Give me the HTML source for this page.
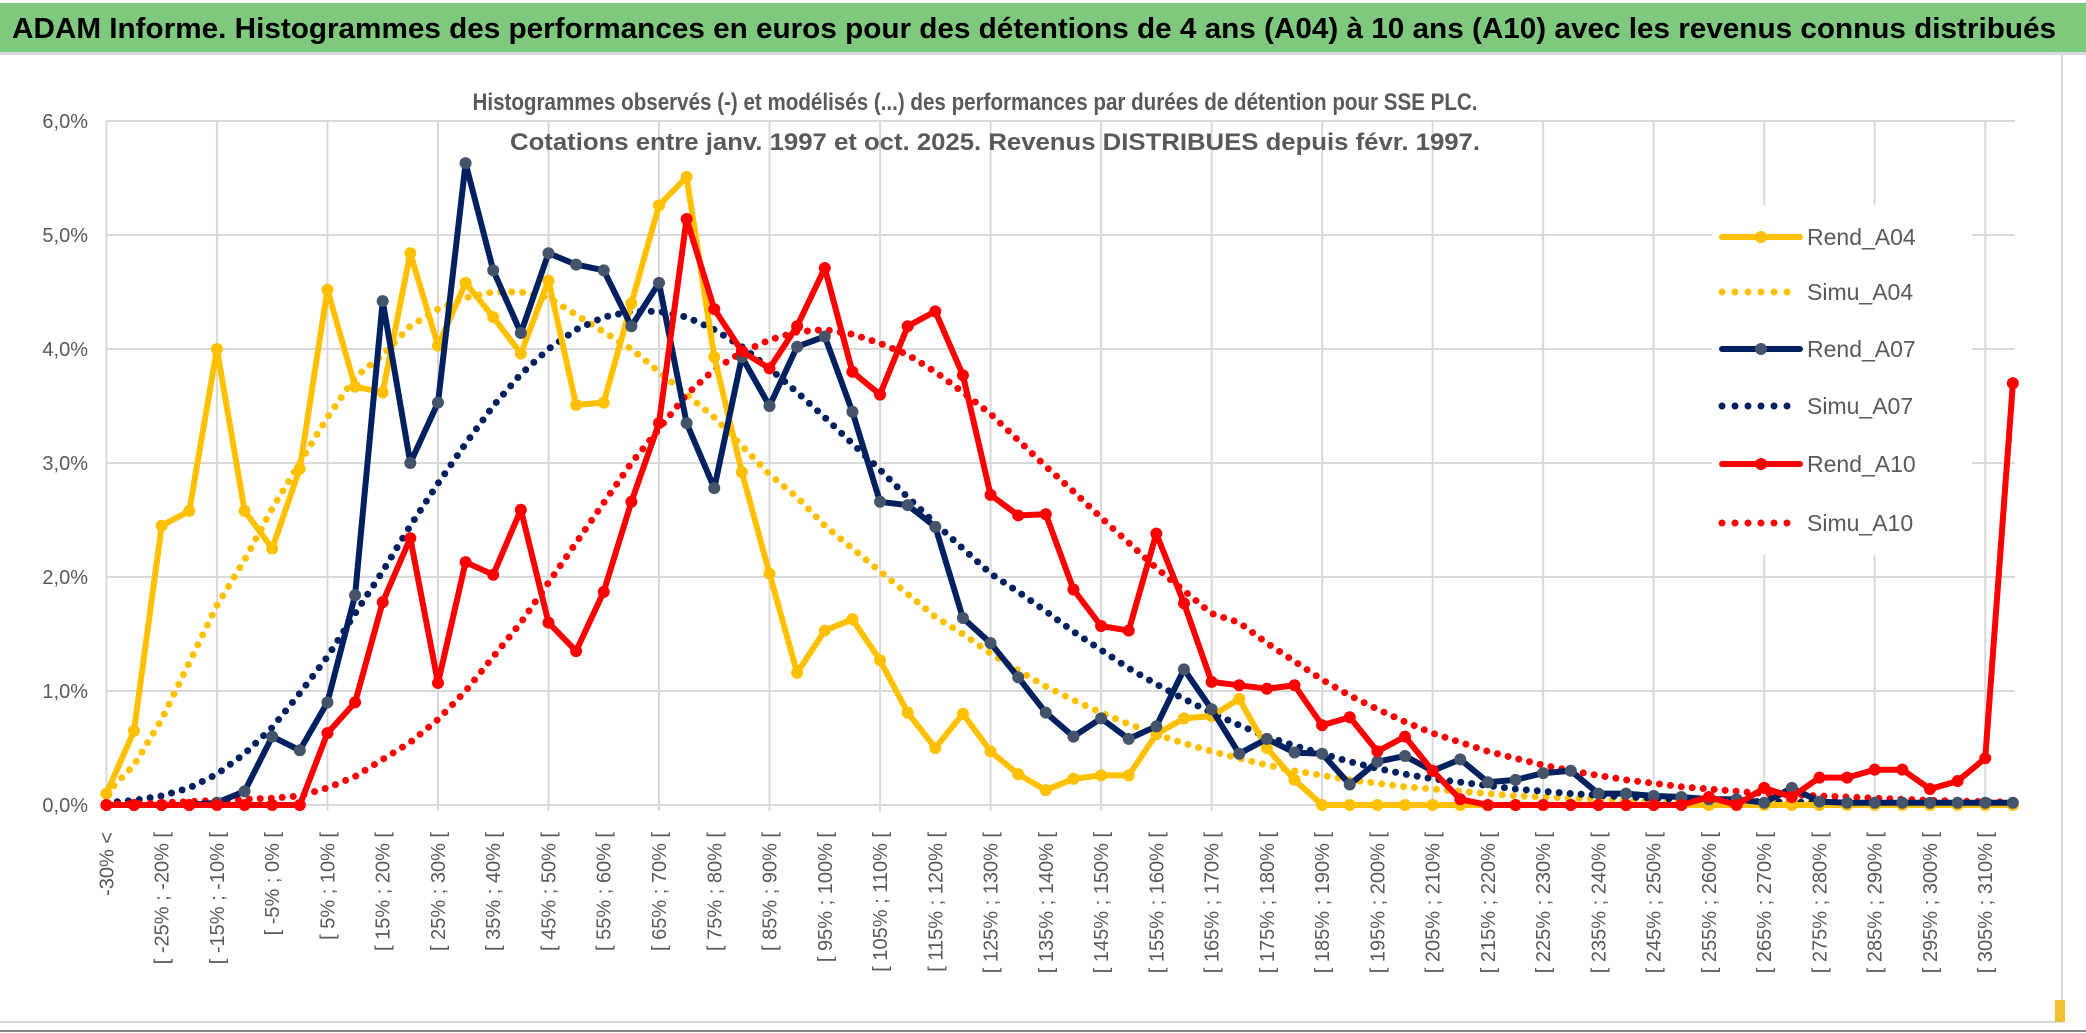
<!DOCTYPE html>
<html><head><meta charset="utf-8"><style>
html,body{margin:0;padding:0;background:#fff;}
svg{display:block;font-family:"Liberation Sans",sans-serif;}
</style></head><body>
<svg id="chart" width="2086" height="1033" viewBox="0 0 2086 1033" xmlns="http://www.w3.org/2000/svg">
<rect x="0" y="0" width="2086" height="1033" fill="#ffffff"/>
<rect x="0" y="3" width="2086" height="49" fill="#7fc97f"/>
<rect x="0" y="52" width="2086" height="3" fill="#d9d9d9"/>
<text x="12" y="38" font-size="29" font-weight="bold" fill="#000" textLength="2044" lengthAdjust="spacingAndGlyphs">ADAM Informe. Histogrammes des performances en euros pour des détentions de 4 ans (A04) à 10 ans (A10) avec les revenus connus distribués</text>
<line x1="2062" y1="55" x2="2062" y2="1022" stroke="#d9d9d9" stroke-width="2"/>
<line x1="0" y1="1022" x2="2062" y2="1022" stroke="#d9d9d9" stroke-width="2"/>
<line x1="0" y1="1031" x2="2086" y2="1031" stroke="#888" stroke-width="2"/>
<rect x="2055" y="1000" width="10" height="22" fill="#f0c030"/>
<g id="grid"></g>
<g id="yticks"></g>
<g id="xlabels"></g>
<rect x="1712" y="205" width="260" height="350" fill="#fff"/>
<text x="975" y="110" font-size="24" font-weight="bold" fill="#595959" text-anchor="middle" textLength="1005" lengthAdjust="spacingAndGlyphs">Histogrammes observés (-) et modélisés (...) des performances par durées de détention pour SSE PLC.</text>
<text x="995" y="150" font-size="24" font-weight="bold" fill="#595959" text-anchor="middle" textLength="970" lengthAdjust="spacingAndGlyphs">Cotations entre janv. 1997 et oct. 2025. Revenus DISTRIBUES depuis févr. 1997.</text>
<g id="series"></g>
<g id="legend"></g>
</svg>
<script>
const categoryStarts = [];
for (let v = -35; v <= 310; v += 5) categoryStarts.push(v);
const yTicks = [0,1,2,3,4,5,6];
const seriesNames = ["Rend_A04","Simu_A04","Rend_A07","Simu_A07","Rend_A10","Simu_A10"];
const rendA04 = [0.1,0.65,2.45,2.58,4.0,2.58,2.25,2.95,4.52,3.67,3.62,4.84,4.03,4.58,4.28,3.96,4.6,3.51,3.53,4.4,5.26,5.51,3.93,2.92,2.03,1.16,1.53,1.63,1.27,0.81,0.5,0.8,0.47,0.27,0.13,0.23,0.26,0.26,0.62,0.76,0.78,0.93,0.5,0.22,0,0,0,0,0,0,0,0,0,0,0,0,0,0,0,0,0,0,0,0,0,0,0,0,0,0];
const simuA04 = [0.1,0.35,0.75,1.25,1.75,2.15,2.6,3.0,3.4,3.75,3.95,4.2,4.35,4.45,4.5,4.5,4.45,4.3,4.15,4.0,3.8,3.6,3.4,3.15,2.9,2.7,2.45,2.25,2.05,1.85,1.65,1.5,1.33,1.18,1.04,0.92,0.81,0.71,0.62,0.54,0.47,0.41,0.35,0.3,0.26,0.22,0.19,0.16,0.14,0.12,0.1,0.08,0.07,0.06,0.05,0.04,0.035,0.03,0.025,0.02,0.02,0.015,0.015,0.01,0.01,0.01,0.01,0.01,0.01,0.01];
const rendA07 = [0,0,0,0,0.02,0.12,0.6,0.48,0.9,1.84,4.42,3.0,3.53,5.63,4.69,4.14,4.84,4.74,4.69,4.2,4.58,3.35,2.78,3.93,3.5,4.02,4.11,3.45,2.66,2.63,2.44,1.64,1.42,1.12,0.81,0.6,0.76,0.58,0.69,1.19,0.84,0.45,0.58,0.46,0.45,0.18,0.38,0.43,0.3,0.4,0.2,0.22,0.28,0.3,0.1,0.1,0.08,0.07,0.05,0.05,0.02,0.15,0.03,0.02,0.02,0.02,0.02,0.02,0.02,0.02];
const simuA07 = [0.02,0.04,0.08,0.15,0.27,0.45,0.68,0.98,1.3,1.68,2.05,2.45,2.82,3.17,3.5,3.78,4.0,4.17,4.28,4.33,4.33,4.28,4.17,4.02,3.83,3.62,3.4,3.17,2.94,2.7,2.47,2.25,2.03,1.87,1.7,1.52,1.36,1.2,1.06,0.93,0.81,0.7,0.6,0.52,0.45,0.38,0.32,0.27,0.23,0.2,0.17,0.14,0.12,0.1,0.085,0.07,0.06,0.05,0.04,0.035,0.03,0.025,0.02,0.02,0.015,0.015,0.01,0.01,0.01,0.01];
const rendA10 = [0,0,0,0,0,0,0,0,0.63,0.9,1.78,2.34,1.07,2.13,2.02,2.59,1.6,1.35,1.87,2.66,3.35,5.14,4.35,3.98,3.83,4.2,4.71,3.8,3.6,4.2,4.33,3.77,2.72,2.54,2.55,1.89,1.57,1.53,2.38,1.77,1.08,1.05,1.02,1.05,0.7,0.77,0.47,0.6,0.3,0.05,0,0,0,0,0,0,0,0,0.07,0,0.15,0.07,0.24,0.24,0.31,0.31,0.14,0.21,0.41,3.7];
const simuA10 = [0.01,0.01,0.02,0.03,0.04,0.05,0.06,0.08,0.15,0.25,0.4,0.55,0.75,1.0,1.3,1.6,1.95,2.3,2.65,3.0,3.3,3.6,3.82,3.97,4.08,4.15,4.17,4.13,4.05,3.95,3.8,3.62,3.43,3.2,2.97,2.75,2.52,2.3,2.08,1.88,1.68,1.6,1.42,1.26,1.1,0.96,0.84,0.73,0.63,0.55,0.47,0.41,0.35,0.3,0.26,0.22,0.19,0.16,0.14,0.12,0.1,0.09,0.08,0.07,0.06,0.05,0.04,0.035,0.03,0.025];

const NS = "http://www.w3.org/2000/svg";
const X0 = 106.4, DX = 27.63, Y0 = 805, DY = 114;
function xPos(i){ return X0 + i*DX; }
function yPos(v){ return Y0 - v*DY; }
function mk(tag, attrs, parent){
  const e = document.createElementNS(NS, tag);
  for (const k in attrs) e.setAttribute(k, attrs[k]);
  parent.appendChild(e); return e;
}
const grid = document.getElementById('grid');
yTicks.forEach(t => {
  const l = mk('line', {x1: X0, x2: xPos(categoryStarts.length-1)+2, y1: yPos(t), y2: yPos(t), stroke:'#d9d9d9','stroke-width':2}, grid);
  
  
});
for (let i = 0; i < categoryStarts.length; i += 4) {
  const l = mk('line', {x1: xPos(i), x2: xPos(i), y1: yPos(6), y2: yPos(0)+6, stroke:'#d9d9d9','stroke-width':2}, grid);
  
  
}
const yt = document.getElementById('yticks');
yTicks.forEach(t => {
  const tx = mk('text', {x: 88, y: yPos(t)+7, 'font-size': 20, fill:'#595959','text-anchor':'end'}, yt);
  tx.textContent = t.toFixed(1).replace('.', ',') + '%';
  
  
});
const xl = document.getElementById('xlabels');
categoryStarts.forEach((s, i) => {
  if (i % 2 !== 0) return;
  const label = i === 0 ? '-30% <' : '[ ' + s + '% ; ' + (s+5) + '% [';
  const x = xPos(i) + 7, y = 832;
  const tx = mk('text', {x: x, y: y, 'font-size': 20, fill:'#595959','text-anchor':'end', transform:'rotate(-90 '+x+' '+y+')'}, xl);
  tx.textContent = label;
  
  
});
const sg = document.getElementById('series');
function drawSeries(vals, color, dotted, markerFill, name){
  const g = mk('g', {}, sg);
  
  
  const pts = vals.map((v,i) => xPos(i).toFixed(1)+','+yPos(v).toFixed(1)).join(' ');
  const attrs = {points: pts, fill:'none', stroke: color, 'stroke-width': dotted ? 7 : 6, 'stroke-linejoin':'round','stroke-linecap':'round'};
  if (dotted) attrs['stroke-dasharray'] = '0 11';
  const pl = mk('polyline', attrs, g);
  
  
  if (!dotted) {
    vals.forEach((v,i) => {
      const c = mk('circle', {cx: xPos(i), cy: yPos(v), r: 6, fill: markerFill}, g);
      
      
    });
  }
}
drawSeries(simuA04, '#FFC000', true, null, 'simu-a04');
drawSeries(simuA07, '#002060', true, null, 'simu-a07');
drawSeries(simuA10, '#FF0000', true, null, 'simu-a10');
drawSeries(rendA04, '#FFC000', false, '#FFC000', 'rend-a04');
drawSeries(rendA07, '#002060', false, '#44546A', 'rend-a07');
drawSeries(rendA10, '#FF0000', false, '#FF0000', 'rend-a10');

const lg = document.getElementById('legend');
const legendColors = ['#FFC000','#FFC000','#002060','#002060','#FF0000','#FF0000'];
const legendMarker = ['#FFC000',null,'#44546A',null,'#FF0000',null];
const legendY = [237,292,349,406,464,523];
seriesNames.forEach((n, k) => {
  const g = mk('g', {}, lg);
  
  
  const y = legendY[k];
  const dotted = legendMarker[k] === null;
  const la = {x1: 1722, x2: 1800, y1: y, y2: y, stroke: legendColors[k], 'stroke-width': dotted ? 7 : 6, 'stroke-linecap':'round'};
  if (dotted) la['stroke-dasharray'] = '0 13';
  mk('line', la, g);
  if (!dotted) mk('circle', {cx: 1761, cy: y, r: 6, fill: legendMarker[k]}, g);
  const t = mk('text', {x: 1807, y: y+8, 'font-size': 23, fill:'#595959'}, g);
  t.textContent = n;
});
</script>
</body></html>
